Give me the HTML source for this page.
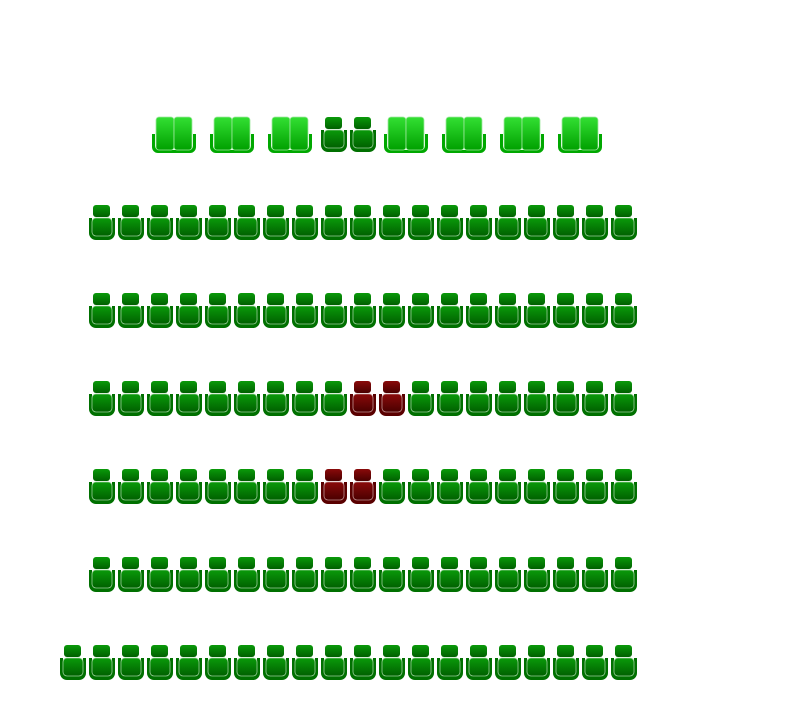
<!DOCTYPE html>
<html><head><meta charset="utf-8"><style>html,body{margin:0;padding:0;background:#fff}svg{display:block}</style></head>
<body>
<svg width="785" height="710" xmlns="http://www.w3.org/2000/svg">
<defs>
<linearGradient id="g" x1="0" y1="0" x2="0" y2="1"><stop offset="0" stop-color="#0a9a0a"/><stop offset="1" stop-color="#006000"/></linearGradient>
<linearGradient id="r" x1="0" y1="0" x2="0" y2="1"><stop offset="0" stop-color="#8a0a0a"/><stop offset="1" stop-color="#4a0000"/></linearGradient>
<linearGradient id="l" x1="0" y1="0" x2="0" y2="1"><stop offset="0" stop-color="#33e033"/><stop offset="1" stop-color="#00a000"/></linearGradient>
<g id="sg">
<rect x="5" y="0" width="17" height="12" rx="3" fill="url(#g)"/>
<path d="M1 13 h3 v14 a4 4 0 0 0 4 4 h12 a4 4 0 0 0 4 -4 v-14 h3 v15 a7 7 0 0 1 -7 7 h-12 a7 7 0 0 1 -7 -7z" fill="#007000"/>
<rect x="4" y="13" width="20" height="18" rx="4" fill="url(#g)" stroke="#9ad09a" stroke-width="0.8"/>
</g>
<g id="sr">
<rect x="5" y="0" width="17" height="12" rx="3" fill="url(#r)"/>
<path d="M1 13 h3 v14 a4 4 0 0 0 4 4 h12 a4 4 0 0 0 4 -4 v-14 h3 v15 a7 7 0 0 1 -7 7 h-12 a7 7 0 0 1 -7 -7z" fill="#5a0000"/>
<rect x="4" y="13" width="20" height="18" rx="4" fill="url(#r)" stroke="#c09090" stroke-width="0.8"/>
</g>
<g id="sofa">
<path d="M0 17 h3 v12 a4 4 0 0 0 4 4 h30 a4 4 0 0 0 4 -4 v-12 h3 v13 a6 6 0 0 1 -6 6 h-32 a6 6 0 0 1 -6 -6z" fill="#00a800"/>
<rect x="4" y="0" width="18" height="33" rx="3" fill="url(#l)" stroke="#a0e8a0" stroke-width="0.8"/>
<rect x="22" y="0" width="18" height="33" rx="3" fill="url(#l)" stroke="#a0e8a0" stroke-width="0.8"/>
</g>
<g id="row">
<use href="#sg" x="0"/><use href="#sg" x="29"/><use href="#sg" x="58"/><use href="#sg" x="87"/><use href="#sg" x="116"/>
<use href="#sg" x="145"/><use href="#sg" x="174"/><use href="#sg" x="203"/><use href="#sg" x="232"/><use href="#sg" x="261"/>
<use href="#sg" x="290"/><use href="#sg" x="319"/><use href="#sg" x="348"/><use href="#sg" x="377"/><use href="#sg" x="406"/>
<use href="#sg" x="435"/><use href="#sg" x="464"/><use href="#sg" x="493"/><use href="#sg" x="522"/>
</g>
</defs>
<use href="#sofa" x="152" y="117"/><use href="#sofa" x="210" y="117"/><use href="#sofa" x="268" y="117"/>
<use href="#sg" x="320" y="117"/><use href="#sg" x="349" y="117"/>
<use href="#sofa" x="384" y="117"/><use href="#sofa" x="442" y="117"/><use href="#sofa" x="500" y="117"/><use href="#sofa" x="558" y="117"/>

<use href="#row" x="88" y="205"/>
<use href="#row" x="88" y="293"/>
<use href="#row" x="88" y="381"/>
<use href="#row" x="88" y="469"/>
<use href="#row" x="88" y="557"/>
<use href="#row" x="88" y="645"/>
<use href="#sg" x="59" y="645"/>

<rect x="349" y="381" width="58" height="37" fill="#fff"/>
<use href="#sr" x="349" y="381"/><use href="#sr" x="378" y="381"/>
<rect x="320" y="469" width="58" height="37" fill="#fff"/>
<use href="#sr" x="320" y="469"/><use href="#sr" x="349" y="469"/>
</svg>
</body></html>
